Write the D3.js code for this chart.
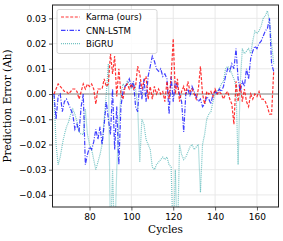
<!DOCTYPE html>
<html><head><meta charset="utf-8">
<script src="https://cdn.jsdelivr.net/npm/d3@7"></script>
<style>body{margin:0;background:#fff}svg{display:block}</style>
</head><body>
<script>
const cycles = [63,64,65,66,67,68,69,70,71,72,73,74,75,76,77,78,79,80,81,82,83,84,85,86,87,88,89,90,91,92,93,94,95,96,97,98,99,100,101,102,103,104,105,106,107,108,109,110,111,112,113,114,115,116,117,118,119,120,121,122,123,124,125,126,127,128,129,130,131,132,133,134,135,136,137,138,139,140,141,142,143,144,145,146,147,148,149,150,151,152,153,154,155,156,157,158,159,160,161,162,163,164,165,166,167,168];
const karma = [0.000,0.002,0.004,0.003,0.002,0.001,0.001,0.000,0.001,0.002,0.002,0.001,-0.002,0.001,0.004,0.002,0.004,0.003,0.004,0.002,-0.004,0.002,0.002,0.002,0.006,0.003,0.004,0.016,0.008,0.015,-0.001,0.010,0.000,-0.002,0.003,0.004,0.002,0.004,0.002,0.003,0.011,0.008,0.002,0.005,0.007,-0.002,0.003,-0.002,0.003,0.000,0.002,0.000,0.001,-0.003,0.005,-0.002,0.007,0.022,0.000,0.006,-0.003,0.001,0.003,0.000,0.005,0.001,0.002,0.000,-0.002,0.002,0.011,0.000,-0.004,0.001,0.000,0.001,-0.001,0.002,0.000,0.001,0.000,-0.002,0.000,0.001,-0.002,-0.004,-0.012,0.005,-0.003,0.004,-0.003,0.002,-0.003,-0.005,0.000,-0.002,0.000,-0.001,0.001,-0.002,-0.002,-0.003,-0.005,-0.008,-0.008,0.009];
const cnnLstm = [0.000,-0.010,-0.001,0.000,-0.007,-0.003,-0.002,-0.004,-0.006,-0.008,-0.014,-0.012,-0.015,-0.005,0.000,-0.028,-0.024,-0.021,-0.022,-0.019,-0.014,-0.018,-0.013,-0.020,-0.012,-0.003,-0.010,-0.016,0.002,-0.022,-0.005,-0.028,-0.005,0.001,0.003,0.004,0.006,0.003,0.005,-0.005,-0.007,0.005,-0.002,0.006,-0.003,0.007,0.011,0.015,0.013,0.010,0.009,0.010,0.007,0.008,0.006,-0.008,0.007,-0.003,0.005,0.003,0.000,-0.003,-0.015,0.000,0.002,-0.001,0.003,0.001,-0.001,-0.003,-0.002,-0.005,-0.004,-0.001,-0.002,-0.004,0.000,0.001,0.000,0.002,0.001,0.003,0.007,0.010,0.009,0.012,0.010,0.018,0.006,0.001,0.005,0.003,0.010,0.006,0.014,0.017,0.019,0.018,0.020,0.021,0.023,0.025,0.026,0.030,0.012,0.009];
const bigru = [0.000,-0.020,-0.028,-0.025,-0.020,-0.016,-0.013,-0.011,-0.008,-0.006,-0.008,-0.011,-0.015,-0.016,-0.016,-0.006,-0.016,-0.020,-0.022,-0.026,-0.030,-0.027,-0.024,-0.020,-0.010,0.000,0.012,-0.060,-0.030,-0.060,-0.030,-0.012,0.000,0.004,0.003,0.005,0.004,0.002,0.004,0.002,-0.005,-0.027,-0.010,-0.012,-0.018,-0.020,-0.022,-0.029,-0.030,-0.028,-0.027,-0.026,-0.025,-0.026,-0.025,-0.028,-0.029,-0.060,-0.030,-0.060,-0.020,-0.024,-0.026,-0.025,-0.023,-0.021,-0.020,-0.022,-0.021,-0.020,-0.039,-0.020,-0.016,-0.010,-0.008,-0.007,-0.003,0.000,0.001,0.002,0.004,0.005,0.010,0.011,0.010,0.008,0.006,0.003,-0.028,0.004,0.018,0.016,0.017,0.018,0.016,0.021,0.025,0.024,0.025,0.027,0.030,0.031,0.033,0.029,0.020,0.012];
const xTicks = [80,100,120,140,160];
const yTicks = [-0.04,-0.03,-0.02,-0.01,0.00,0.01,0.02,0.03];
const seriesNames = ["Karma (ours)","CNN-LSTM","BiGRU"];

const W = 283, H = 241;
const m = {l:52.5, r:278.5, t:5, b:207};
const svg = d3.select("body").append("svg").attr("width",W).attr("height",H);
const x = d3.scaleLinear().domain([62.3,170.3]).range([m.l,m.r]);
const y = d3.scaleLinear().domain([-0.0448,0.0353]).range([m.b,m.t]);

svg.append("defs").append("clipPath").attr("id","clip")
  .append("rect").attr("x",m.l).attr("y",m.t).attr("width",m.r-m.l).attr("height",m.b-m.t);

const g = svg.append("g");
g.selectAll(".gx").data(xTicks).join("line")
  .attr("x1",d=>x(d)).attr("x2",d=>x(d)).attr("y1",m.t).attr("y2",m.b)
  .attr("stroke","#e6e6e6").attr("stroke-width",0.9);
g.selectAll(".gy").data(yTicks).join("line")
  .attr("y1",d=>y(d)).attr("y2",d=>y(d)).attr("x1",m.l).attr("x2",m.r)
  .attr("stroke","#e6e6e6").attr("stroke-width",0.9);

svg.append("line").attr("x1",m.l).attr("x2",m.r).attr("y1",y(0)).attr("y2",y(0))
  .attr("stroke","#bdbdbd").attr("stroke-width",2);

const styles = [
  {data:karma, color:"#ff0000", dash:"3,1.6", op:0.8},
  {data:cnnLstm, color:"#0000ff", dash:"4.5,1.5,1,1.5", op:0.75},
  {data:bigru, color:"#2aa5a5", dash:"1,1", op:0.65}
];
const line = d3.line().x((d,i)=>x(cycles[i])).y(d=>y(d));
const lg = svg.append("g").attr("clip-path","url(#clip)");
styles.slice().reverse().forEach(s=>{
  lg.append("path").datum(s.data).attr("d",line).attr("fill","none")
    .attr("stroke",s.color).attr("stroke-width",1.2).attr("stroke-dasharray",s.dash)
    .attr("stroke-opacity",s.op);
});

const fnt = "DejaVu Sans, sans-serif";
const xa = svg.append("g").attr("transform",`translate(0,${m.b})`)
  .call(d3.axisBottom(x).tickValues(xTicks).tickSize(3.5).tickPadding(3).tickFormat(d3.format("d")));
const ya = svg.append("g").attr("transform",`translate(${m.l},0)`)
  .call(d3.axisLeft(y).tickValues(yTicks).tickSize(3.5).tickPadding(2.5).tickFormat(d=>d3.format(".2f")(d).replace("-","\u2212")));
[xa,ya].forEach(a=>{
  a.select(".domain").remove();
  a.selectAll("text").attr("font-family",fnt).attr("font-size",9).attr("fill","#000");
  a.selectAll("line").attr("stroke","#333").attr("stroke-width",0.8);
});

svg.append("rect").attr("x",m.l).attr("y",m.t).attr("width",m.r-m.l).attr("height",m.b-m.t)
  .attr("fill","none").attr("stroke","#222").attr("stroke-width",1);

svg.append("text").attr("x",(m.l+m.r)/2).attr("y",233).attr("text-anchor","middle")
  .attr("font-family","DejaVu Serif, serif").attr("font-size",10.5).text("Cycles");
svg.append("text").attr("transform",`translate(11,${(m.t+m.b)/2}) rotate(-90)`).attr("text-anchor","middle")
  .attr("font-family","DejaVu Serif, serif").attr("font-size",10.5).text("Prediction Error (Ah)");

const leg = svg.append("g");
leg.append("rect").attr("x",57).attr("y",9.5).attr("width",100).attr("height",44).attr("rx",2)
  .attr("fill","#fff").attr("fill-opacity",0.85).attr("stroke","#ccc").attr("stroke-width",0.8);
styles.forEach((s,i)=>{
  const yy = 17 + i*13.3;
  leg.append("line").attr("x1",61).attr("x2",80).attr("y1",yy).attr("y2",yy)
    .attr("stroke",s.color).attr("stroke-width",1.2).attr("stroke-dasharray",s.dash).attr("stroke-opacity",s.op);
  leg.append("text").attr("x",86).attr("y",yy+3.2).attr("font-family",fnt).attr("font-size",8.6).text(seriesNames[i]);
});
</script>
</body></html>
